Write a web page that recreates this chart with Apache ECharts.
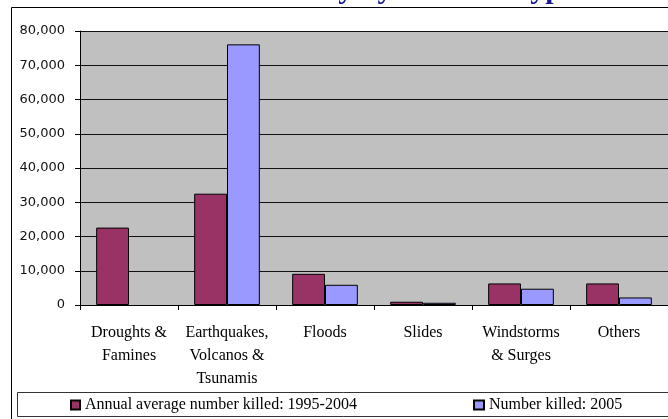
<!DOCTYPE html>
<html>
<head>
<meta charset="utf-8">
<script src="https://cdn.jsdelivr.net/npm/echarts@6/dist/echarts.min.js"></script>
<style>
  html, body { margin: 0; padding: 0; background: #fff; }
  #chart { width: 668px; height: 419px; }
</style>
</head>
<body>
<div id="chart"></div>
<script>
const categories = [
  'Droughts &\nFamines',
  'Earthquakes,\nVolcanos &\nTsunamis',
  'Floods',
  'Slides',
  'Windstorms\n& Surges',
  'Others'
]
const seriesNames = ['Annual average number killed: 1995-2004', 'Number killed: 2005']
const annualAverage = [22600, 32500, 9100, 950, 6300, 6300]
// no bar drawn for droughts in 2005
const killed2005 = [null, 76100, 5900, 650, 4750, 2200]
const yTicks = { min: 0, max: 80000, interval: 10000 }

const serif = '"Liberation Serif", "DejaVu Serif", serif'
const sans = '"DejaVu Sans", sans-serif'

const chart = echarts.init(document.getElementById('chart'))

const option = {
  animation: false,
  backgroundColor: '#fff',
  title: {
    text: 'Mortality by Disaster Type',
    left: 230,
    top: -25,
    padding: 0,
    textStyle: {
      fontFamily: serif,
      fontSize: 30,
      fontWeight: 'bold',
      color: '#1a1a99'
    }
  },
  legend: [
    {
      data: [seriesNames[0]],
      left: 70,
      top: 397,
      padding: 0,
      itemWidth: 9,
      itemHeight: 9,
      icon: 'rect',
      textStyle: { fontFamily: serif, fontSize: 16, color: '#000', lineHeight: 16 }
    },
    {
      data: [seriesNames[1]],
      left: 473,
      top: 397,
      padding: 0,
      itemWidth: 10,
      itemHeight: 9,
      icon: 'rect',
      textStyle: { fontFamily: serif, fontSize: 16, color: '#000', lineHeight: 16 }
    }
  ],
  graphic: [
    {
      type: 'rect',
      shape: { x: 11.5, y: 7.5, width: 700, height: 500 },
      style: { fill: 'none', stroke: '#000', lineWidth: 1 },
      z: -10
    },
    {
      type: 'rect',
      shape: { x: 17.5, y: 392.5, width: 700, height: 24 },
      style: { fill: 'none', stroke: '#333', lineWidth: 1 },
      z: 10
    }
  ],
  grid: {
    left: 80,
    top: 31,
    right: -5,
    bottom: 114,
    show: true,
    backgroundColor: '#c0c0c0',
    borderWidth: 0
  },
  xAxis: {
    type: 'category',
    data: categories,
    axisLine: { lineStyle: { color: '#000', width: 1 } },
    axisTick: { show: true, length: 5, lineStyle: { color: '#000' } },
    axisLabel: {
      interval: 0,
      margin: 16,
      fontFamily: serif,
      fontSize: 16,
      lineHeight: 23,
      color: '#000'
    }
  },
  yAxis: {
    type: 'value',
    min: yTicks.min,
    max: yTicks.max,
    interval: yTicks.interval,
    axisLine: { show: true, lineStyle: { color: '#000', width: 1 } },
    axisTick: { show: true, length: 5, lineStyle: { color: '#000' } },
    splitLine: { show: true, lineStyle: { color: '#111', width: 1 } },
    axisLabel: {
      margin: 15,
      fontFamily: sans,
      fontSize: 13,
      color: '#111',
      formatter: (value) => value.toLocaleString('en-US')
    }
  },
  series: [
    {
      name: seriesNames[0],
      type: 'bar',
      data: annualAverage,
      barGap: '0%',
      barCategoryGap: '33%',
      itemStyle: { color: '#993366', borderColor: '#000', borderWidth: 1 }
    },
    {
      name: seriesNames[1],
      type: 'bar',
      data: killed2005,
      barGap: '0%',
      barCategoryGap: '33%',
      itemStyle: { color: '#9999ff', borderColor: '#000', borderWidth: 1 }
    }
  ]
}

chart.setOption(option)
</script>
</body>
</html>
